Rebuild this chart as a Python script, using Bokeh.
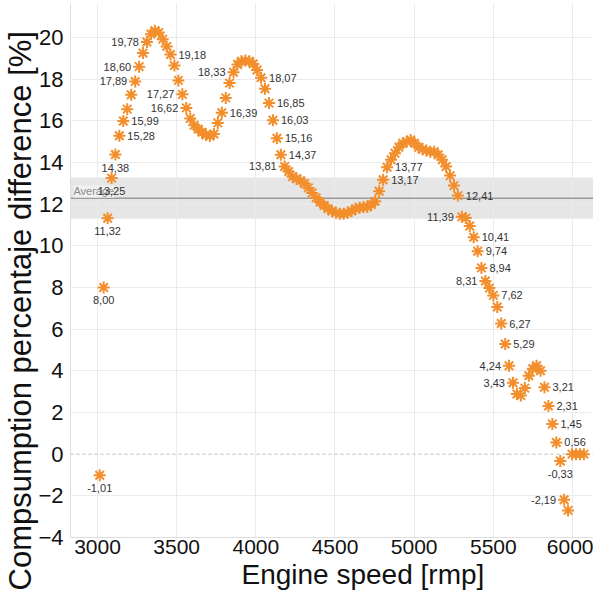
from bokeh.plotting import figure
from bokeh.models import FixedTicker, Span, BoxAnnotation, Label, ColumnDataSource, Title
from bokeh.embed import file_html
from bokeh.resources import INLINE
from bokeh.core.properties import value

# Engine speed [rpm]
rpm = [
    3014, 3039, 3064, 3089, 3113, 3138, 3163, 3188, 3213, 3238,
    3263, 3287, 3312, 3337, 3362, 3387, 3412, 3437, 3461, 3486,
    3511, 3536, 3561, 3586, 3611, 3636, 3660, 3685, 3710, 3735,
    3760, 3785, 3810, 3834, 3859, 3884, 3909, 3934, 3959, 3984,
    4008, 4033, 4058, 4083, 4108, 4133, 4158, 4182, 4207, 4232,
    4257, 4282, 4307, 4332, 4356, 4381, 4406, 4431, 4456, 4481,
    4506, 4530, 4555, 4580, 4605, 4630, 4655, 4680, 4704, 4729,
    4754, 4779, 4804, 4829, 4854, 4879, 4903, 4928, 4953, 4978,
    5003, 5028, 5053, 5077, 5102, 5127, 5152, 5177, 5202, 5227,
    5251, 5276, 5301, 5326, 5351, 5376, 5401, 5425, 5450, 5475,
    5500, 5525, 5550, 5575, 5599, 5624, 5649, 5674, 5699, 5724,
    5749, 5773, 5798, 5823, 5848, 5873, 5898, 5923, 5947, 5972,
    5997, 6022, 6047, 6072,
]

# Consumption percentage difference [%]
pct = [
    -1.01, 8.00, 11.32, 13.25, 14.38, 15.28, 15.99, 16.56, 17.25, 17.89,
    18.60, 19.25, 19.78, 20.16, 20.32, 20.24, 19.92, 19.57, 19.18, 18.65,
    17.94, 17.27, 16.62, 16.11, 15.79, 15.60, 15.45, 15.32, 15.27, 15.37,
    15.90, 16.39, 17.10, 17.81, 18.33, 18.70, 18.86, 18.89, 18.86, 18.73,
    18.44, 18.07, 17.54, 16.85, 16.03, 15.16, 14.37, 13.81, 13.57, 13.33,
    13.22, 13.13, 12.99, 12.78, 12.54, 12.30, 12.10, 11.94, 11.78, 11.67,
    11.59, 11.54, 11.54, 11.59, 11.67, 11.78, 11.83, 11.86, 11.86, 11.98,
    12.14, 12.62, 13.17, 13.77, 14.13, 14.44, 14.73, 14.92, 15.00, 15.08,
    14.92, 14.73, 14.63, 14.57, 14.52, 14.52, 14.37, 14.13, 13.81, 13.37,
    12.89, 12.41, 11.39, 11.33, 10.95, 10.41, 9.74, 8.94, 8.31, 7.97,
    7.62, 7.06, 6.27, 5.29, 4.24, 3.43, 2.89, 2.81, 3.17, 3.76,
    4.10, 4.24, 4.00, 3.21, 2.31, 1.45, 0.56, -0.33, -2.19, -2.70,
    0.00, 0.00, 0.00, 0.00,
]

# Points that carry a value label and where the label sits (b=below, r=right, l=left)
label_idx = [0, 1, 2, 3, 4, 5, 6, 9, 10, 12, 18, 21, 22, 31, 34, 41, 43, 44, 45, 46,
             47, 72, 73, 91, 92, 95, 96, 97, 98, 100, 102, 103, 104, 105, 113, 114,
             115, 116, 117, 118]
label_pos = ["b", "b", "b", "b", "b", "r", "r", "l", "l", "l", "r", "l", "l", "r", "l", "r", "r", "r", "r", "r",
             "l", "r", "r", "r", "l", "r", "r", "r", "l", "r", "r", "r", "l", "l", "r", "r",
             "r", "r", "b", "l"]

x_ticks = [3000, 3500, 4000, 4500, 5000, 5500, 6000]
y_ticks = [-4, -2, 0, 2, 4, 6, 8, 10, 12, 14, 16, 18, 20]

avg_value = 12.28
band_low = 11.30
band_high = 13.28

ORANGE = "#F28E2B"
FONT = "Liberation Sans"

p = figure(width=593, height=593, output_backend="svg", toolbar_location=None,
           x_range=(2829.5, 6132.7), y_range=(-4.0, 21.63),
           min_border_left=70, min_border_bottom=56, min_border_top=3, min_border_right=0)
p.background_fill_color = "white"
p.border_fill_color = "white"
p.outline_line_color = None

band = BoxAnnotation(bottom=band_low, top=band_high, fill_color="#e6e6e6", fill_alpha=1.0,
                     line_color=None, level="image")
p.add_layout(band)

p.xaxis.ticker = FixedTicker(ticks=x_ticks)
p.yaxis.ticker = FixedTicker(ticks=y_ticks)
p.xgrid.ticker = FixedTicker(ticks=x_ticks)
p.ygrid.ticker = FixedTicker(ticks=[t for t in y_ticks if t != 0])
for g in (p.xgrid, p.ygrid):
    g.grid_line_color = "#ebebeb"
    g.grid_line_width = 1

zero = Span(location=0, dimension="width", line_color="#bbbbbb", line_dash="3 3", line_width=1,
            level="underlay")
p.add_layout(zero)
avg = Span(location=avg_value, dimension="width", line_color="#9a9a9a", line_width=1.5,
           level="underlay")
p.add_layout(avg)

avg_label = Label(x=2848, y=avg_value + 0.33, text="Average", text_font=FONT, text_font_size="11px",
                  text_color="#8a8a8a", text_baseline="middle", text_align="left",
                  background_fill_color="#f1f1f1", background_fill_alpha=1.0, level="underlay")
p.add_layout(avg_label)

for ax in (p.xaxis, p.yaxis):
    ax.axis_line_color = "#dddddd"
    ax.major_tick_line_color = None
    ax.minor_tick_line_color = None
    ax.major_tick_out = 0
    ax.major_tick_in = 0
    ax.major_label_text_font = FONT
    ax.major_label_text_color = "#111111"
p.xaxis.major_label_text_font_size = "21px"
p.yaxis.major_label_text_font_size = "22px"
p.xaxis.major_label_standoff = 2
p.yaxis.major_label_standoff = 7

xt = Title(text="Engine speed [rmp]", align="left", offset=171, text_font=FONT,
           text_font_size="28px", text_font_style="normal", text_color="#111111", standoff=0)
p.add_layout(xt, "below")
yt = Title(text="Compsumption percentaje difference [%]", align="left", offset=-53, text_font=FONT,
           text_font_size="31px", text_font_style="normal", text_color="#111111", standoff=-5)
p.add_layout(yt, "left")

p.scatter(rpm, pct, marker="asterisk", size=12, line_color=ORANGE, line_width=2)

lx, ly, lt, la, lxo, lyo = [], [], [], [], [], []
for i, pos in zip(label_idx, label_pos):
    lx.append(rpm[i])
    ly.append(pct[i])
    lt.append(f"{pct[i]:.2f}".replace(".", ","))
    if pos == "b":
        la.append("center"); lxo.append(0); lyo.append(13)
    elif pos == "r":
        la.append("left"); lxo.append(8); lyo.append(0)
    else:
        la.append("right"); lxo.append(-8); lyo.append(0)

src = ColumnDataSource(dict(x=lx, y=ly, t=lt, a=la, xo=lxo, yo=lyo))
p.text(x="x", y="y", text="t", text_align="a", x_offset="xo", y_offset="yo",
       text_baseline="middle", text_font=value(FONT), text_font_size="11px",
       text_color="#333333", source=src)

open("out.html", "w").write(file_html(p, INLINE))
